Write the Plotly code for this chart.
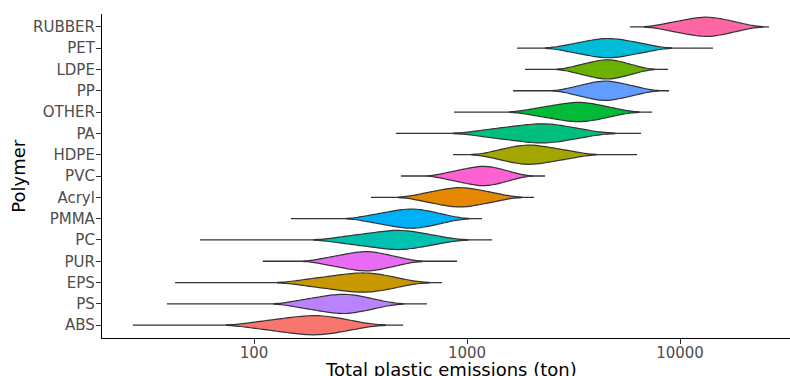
import numpy as np
import plotly.graph_objects as go

# Polymers, bottom to top (ordered by median emission)
polymers = ["ABS", "PS", "EPS", "PUR", "PC", "PMMA", "Acryl", "PVC",
            "HDPE", "PA", "OTHER", "PP", "LDPE", "PET", "RUBBER"]

# ggplot default hue palette, assigned alphabetically
colors = ["#F8766D", "#B983FF", "#C99800", "#E76BF3", "#00C0AF", "#00B0F6",
          "#E58700", "#FD61D1", "#A3A500", "#00BF7D", "#00BA38", "#619CFF",
          "#6BB100", "#00BCD8", "#FF67A4"]

# Emission samples (ton) describing the bulk of each distribution
abs_t = [102, 122, 137, 151, 165, 177, 190, 203, 217, 236, 260, 301]
ps_t = [161, 184, 203, 219, 235, 249, 263, 277, 294, 315, 343, 387]
eps_t = [175, 207, 233, 256, 278, 299, 320, 340, 363, 391, 428, 489]
pur_t = [217, 246, 268, 288, 306, 322, 339, 356, 376, 401, 434, 486]
pc_t = [260, 307, 344, 378, 419, 441, 471, 502, 537, 582, 642, 740]
pmma_t = [348, 396, 434, 466, 496, 525, 552, 581, 614, 655, 710, 797]
acryl_t = [611, 692, 753, 807, 857, 904, 950, 1003, 1065, 1142, 1244, 1407]
pvc_t = [804, 900, 972, 1035, 1093, 1147, 1199, 1252, 1313, 1388, 1484, 1637]
hdpe_t = [1352, 1518, 1645, 1753, 1854, 1950, 2057, 2180, 2327, 2507, 2748, 3146]
pa_t = [1192, 1419, 1600, 1764, 1921, 2121, 2218, 2369, 2551, 2775, 3078, 3577]
other_t = [2055, 2360, 2595, 2802, 2996, 3179, 3360, 3543, 3760, 4025, 4378, 4953]
pp_t = [3132, 3482, 3743, 3973, 4179, 4373, 4567, 4784, 5039, 5353, 5762, 6420]
ldpe_t = [3218, 3558, 3817, 4038, 4239, 4431, 4611, 4805, 5028, 5302, 5657, 6222]
pet_t = [3006, 3411, 3723, 3999, 4248, 4489, 4723, 4996, 5314, 5706, 6229, 7083]
rubber_t = [8642, 9775, 10650, 11420, 12120, 12790, 13440, 14120, 14940, 15920, 17240, 19340]

# Full range (min, max) of each polymer's emissions (ton)
range_min = [27.0, 39.0, 42.6, 110, 55.8, 149, 354, 490, 860, 464, 869, 1645, 1872, 1717, 5830]
range_max = [501, 649, 763, 898, 1311, 1176, 2064, 2324, 6282, 6560, 7400, 8880, 8785, 14290, 26170]

tick_values = [100, 1000, 10000]

samples = [abs_t, ps_t, eps_t, pur_t, pc_t, pmma_t, acryl_t, pvc_t,
           hdpe_t, pa_t, other_t, pp_t, ldpe_t, pet_t, rubber_t]

FONT = "DejaVu Sans"
OUTLINE = "#333333"
fig = go.Figure()

for name, col, vals, lo, hi in zip(polymers, colors, samples, range_min, range_max):
    logv = np.log10(vals)
    fig.add_shape(type="line", xref="x", yref="y",
                  x0=np.log10(lo), x1=np.log10(hi), y0=name, y1=name,
                  layer="below", line=dict(color=OUTLINE, width=1.3))
    fig.add_trace(go.Violin(
        x=logv, y=[name] * len(vals), orientation="h",
        name=name, fillcolor=col, opacity=1,
        line=dict(color=OUTLINE, width=1.2),
        width=0.9, scalegroup="all", scalemode="width",
        bandwidth=0.5 * np.std(logv, ddof=1),
        points=False, spanmode="soft", showlegend=False,
        box=dict(visible=False), meanline=dict(visible=False),
    ))

fig.update_layout(
    width=790, height=376,
    margin=dict(l=102, r=0, t=14, b=38),
    paper_bgcolor="white", plot_bgcolor="white",
    violinmode="overlay",
    font=dict(family=FONT, color="#4D4D4D", size=15),
    xaxis=dict(
        range=[1.2864, 4.5164],
        tickvals=np.log10(tick_values), ticktext=[str(v) for v in tick_values],
        showgrid=False, zeroline=False,
        showline=True, linecolor="#000000", linewidth=1.2,
        ticks="outside", ticklen=5, tickwidth=1.2, tickcolor="#333333",
        ticklabelstandoff=-4,
        tickfont=dict(family=FONT, size=15, color="#4D4D4D"),
    ),
    yaxis=dict(
        type="category", categoryorder="array", categoryarray=polymers,
        range=[-0.6, 14.6],
        showgrid=False, zeroline=False,
        showline=True, linecolor="#000000", linewidth=1.2,
        ticks="outside", ticklen=5, tickwidth=1.2, tickcolor="#333333",
        ticklabelstandoff=-2,
        tickfont=dict(family=FONT, size=15, color="#4D4D4D"),
    ),
    annotations=[
        dict(text="Total plastic emissions (ton)", xref="paper", yref="paper",
             x=0.5073, y=-0.0957, xanchor="center", yanchor="middle",
             showarrow=False, font=dict(family=FONT, size=18, color="#000000")),
        dict(text="Polymer", xref="paper", yref="paper",
             x=-0.1225, y=0.5, xanchor="center", yanchor="middle", textangle=-90,
             showarrow=False, font=dict(family=FONT, size=18, color="#000000")),
    ],
)

fig.write_html("out.html")
